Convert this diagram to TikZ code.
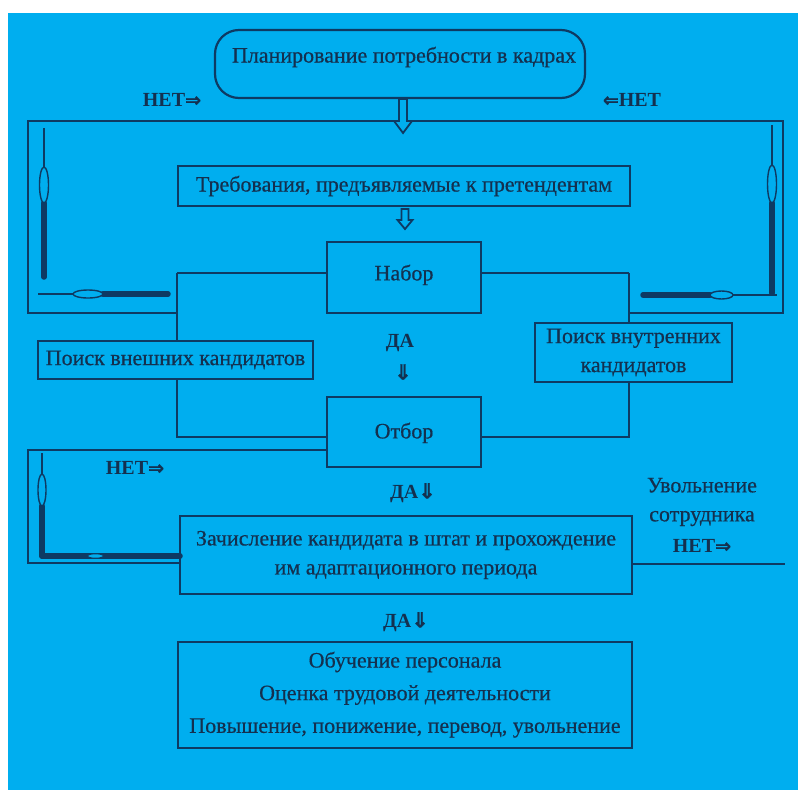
\documentclass[tikz,border=0pt]{standalone}
\usepackage{fontspec}
\setmainfont{Liberation Serif}
\newfontfamily\boxfont{Liberation Serif}[FakeBold=0.5]
\newfontfamily\arrowfont{DejaVu Sans}[FakeBold=1]
\usetikzlibrary{calc}
\definecolor{bg}{HTML}{00AEEF}
\definecolor{lnc}{HTML}{0E3A63}
\definecolor{txc}{HTML}{14304F}
\newcommand\hdown[6]{\filldraw[fill=bg,draw=lnc,line width=1.8pt,line join=miter] (#1-#4,#2) -- (#1+#4,#2) -- (#1+#4,#3-#6) -- (#1+#5,#3-#6) -- (#1,#3) -- (#1-#5,#3-#6) -- (#1-#4,#3-#6) -- cycle;}
\begin{document}
\begin{tikzpicture}[x=1pt,y=-1pt,
  box/.style={draw=lnc, line width=2.2pt, text=txc, font=\boxfont\fontsize{22}{29}\selectfont, inner sep=0pt, align=center},
  lbl/.style={text=txc, font=\boxfont\fontsize{22}{29}\selectfont, inner sep=0pt, align=center},
  yes/.style={text=txc, font=\fontsize{20}{22}\selectfont\bfseries, inner sep=0pt},
  ln/.style={draw=lnc, line width=2.2pt},
  thin/.style={draw=lnc, line width=1.3pt},
  shaft/.style={draw=lnc, line width=5.5pt, line cap=round},
  bulb/.style={draw=lnc, line width=1.4pt, fill=bg}
]
\useasboundingbox (0,0) rectangle (798,790);
\fill[white] (0,0) rectangle (798,790);
\fill[bg] (8,13) rectangle (798,790);

% top planning box
\node[box, rounded corners=24pt, minimum width=370pt, minimum height=68pt] (plan) at (400,64) {};
\node[lbl] (plantxt) at (404,57) {Планирование потребности в кадрах};
\node[yes] (netL) at (172,100) {НЕТ{\arrowfont\fontsize{19}{20}\selectfont ⇒}};
\node[yes] (netR) at (632,100) {{\arrowfont\fontsize{19}{20}\selectfont ⇐}НЕТ};

% outer frame
\coordinate (fTL) at (28,121);
\coordinate (fTR) at (783,121);
\coordinate (fBL) at (28,313);
\coordinate (fBR) at (783,313);
\coordinate (jL) at (177,313);
\coordinate (jR) at (629,313);
\draw[ln] (jL) -- (fBL) -- (fTL) -- (fTR) -- (fBR) -- (jR);

\hdown{403}{99}{133}{4}{9}{12}

% requirements
\node[box, minimum width=452pt, minimum height=40pt] (treb) at (404,186) {Требования, предъявляемые к претендентам};
\hdown{405}{209}{229}{3.5}{7.5}{9}

% Nabor
\node[box, minimum width=154pt, minimum height=71pt, text depth=10pt] (nabor) at (404,277.5) {Набор};
\coordinate (aL) at (177,273);
\coordinate (aR) at (629,273);
\draw[ln] (nabor.west |- aL) -- (aL);
\draw[ln] (nabor.east |- aR) -- (aR);

% search boxes
\node[box, minimum width=275pt, minimum height=38pt] (ext) at (175.5,360) {Поиск внешних кандидатов};
\node[box, minimum width=197pt, minimum height=59pt] (int) at (633.5,352.5) {Поиск внутренних\\кандидатов};

\node[yes] (da1) at (400,343) {ДА};
\node[yes] (da1a) at (403,372) {\arrowfont\fontsize{21}{22}\selectfont ⇓};

% Otbor
\node[box, minimum width=154pt, minimum height=70pt, text depth=3pt] (otbor) at (404,432) {Отбор};
\coordinate (bL) at (177,437);
\coordinate (bR) at (629,437);
\draw[ln] (aL) -- (ext.north -| aL);
\draw[ln] (ext.south -| aL) -- (bL) -- (otbor.west |- bL);
\draw[ln] (aR) -- (int.north -| aR);
\draw[ln] (int.south -| aR) -- (bR) -- (otbor.east |- bR);

% slim arrows upper-left
\coordinate (v1t) at (44,128);
\coordinate (v1b) at (44,277);
\draw[thin] (v1t) -- (44,167);
\draw[shaft] (44,203) -- (v1b);
\draw[bulb] (44,185) ellipse [x radius=4.5pt, y radius=18pt];
\coordinate (h1l) at (38,294);
\coordinate (h1r) at (168,294);
\draw[thin] (h1l) -- (73,294);
\draw[shaft] (103,294) -- (h1r);
\draw[bulb] (88,294) ellipse [x radius=15pt, y radius=4pt];

% slim arrows upper-right
\coordinate (v2t) at (772,125);
\coordinate (v2b) at (772,293);
\draw[thin] (v2t) -- (772,165);
\draw[shaft] (772,203) -- (v2b);
\draw[bulb] (772,184) ellipse [x radius=4.5pt, y radius=19pt];
\coordinate (h2l) at (643,295);
\coordinate (h2r) at (777,295);
\draw[shaft] (h2l) -- (710,295);
\draw[thin] (733,295) -- (h2r);
\draw[bulb] (721.5,295) ellipse [x radius=11.5pt, y radius=4pt];

% lower-left frame
\node[box, minimum width=452pt, minimum height=78pt] (zach) at (406,555) {Зачисление кандидата в штат и прохождение\\им адаптационного периода};
\coordinate (gTL) at (28,450);
\coordinate (gBL) at (28,563);
\draw[ln] (otbor.west |- gTL) -- (gTL) -- (gBL) -- (zach.west |- gBL);
\node[yes] (net3) at (135,468) {НЕТ{\arrowfont\fontsize{19}{20}\selectfont ⇒}};

\coordinate (v3t) at (42,453);
\coordinate (v3b) at (42,556);
\draw[thin] (v3t) -- (42,474);
\draw[shaft] (42,506) -- (v3b);
\draw[bulb] (42,490) ellipse [x radius=4pt, y radius=16pt];
\coordinate (h3r) at (180,556);
\draw[shaft] (v3b) -- (h3r);
\draw[draw=lnc, line width=1pt, fill=bg] (95.5,556) ellipse [x radius=8pt, y radius=2.2pt];

\node[yes] (da2) at (413,493) {ДА{\arrowfont\fontsize{21}{22}\selectfont ⇓}};

% dismissal
\coordinate (dR) at (785,564);
\draw[ln] (zach.east |- dR) -- (dR);
\node[lbl] (uv) at (702,502) {Увольнение\\сотрудника};
\node[yes] (net4) at (702,546) {НЕТ{\arrowfont\fontsize{19}{20}\selectfont ⇒}};

\node[yes] (da3) at (406,622) {ДА{\arrowfont\fontsize{21}{22}\selectfont ⇓}};

% bottom box
\node[box, minimum width=454pt, minimum height=106pt] (bot) at (405,695) {};
\node[lbl] (b1) at (405,662) {Обучение персонала};
\node[lbl] (b2) at (405,695) {Оценка трудовой деятельности};
\node[lbl] (b3) at (405,728) {Повышение, понижение, перевод, увольнение};
\end{tikzpicture}
\end{document}
